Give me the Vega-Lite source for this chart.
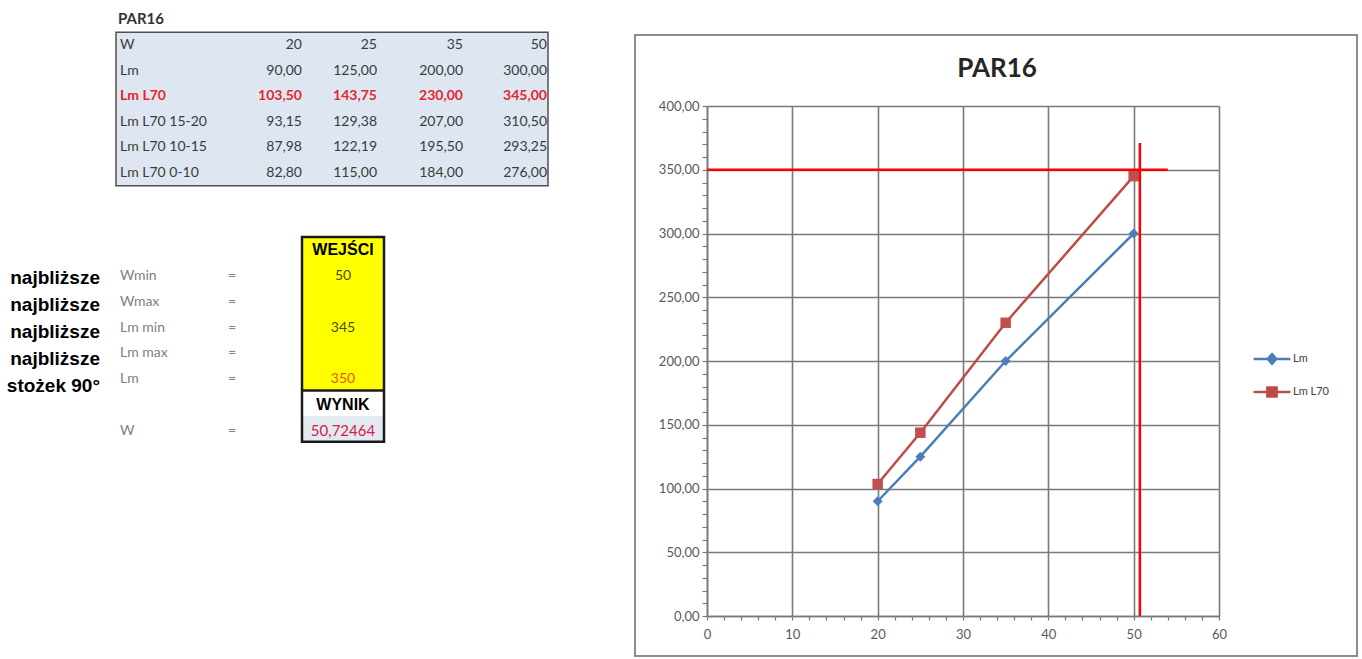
{
  "$schema": "https://vega.github.io/schema/vega-lite/v6.json",
  "width": 512,
  "height": 510,
  "autosize": {"type": "none"},
  "padding": {"left": 707, "top": 106, "right": 143, "bottom": 43},
  "background": "#ffffff",
  "title": {"text": "PAR16", "font": "Lato", "fontSize": 26, "fontWeight": "bold", "color": "#262626", "anchor": "middle", "frame": "group", "dx": 34, "dy": 88, "offset": 18},
  "config": {
    "locale": {"number": {"decimal": ",", "thousands": " ", "grouping": [3], "currency": ["", " zł"]}},
    "view": {"stroke": null},
    "axis": {"labelFont": "Lato"},
    "legend": {"labelFont": "Lato"}
  },
  "datasets": {
    "pomiary": [
      {"seria": "Lm", "W": 20, "wartosc": 90.00},
      {"seria": "Lm", "W": 25, "wartosc": 125.00},
      {"seria": "Lm", "W": 35, "wartosc": 200.00},
      {"seria": "Lm", "W": 50, "wartosc": 300.00},
      {"seria": "Lm L70", "W": 20, "wartosc": 103.50},
      {"seria": "Lm L70", "W": 25, "wartosc": 143.75},
      {"seria": "Lm L70", "W": 35, "wartosc": 230.00},
      {"seria": "Lm L70", "W": 50, "wartosc": 345.00},
      {"seria": "Lm L70 15-20", "W": 20, "wartosc": 93.15},
      {"seria": "Lm L70 15-20", "W": 25, "wartosc": 129.38},
      {"seria": "Lm L70 15-20", "W": 35, "wartosc": 207.00},
      {"seria": "Lm L70 15-20", "W": 50, "wartosc": 310.50},
      {"seria": "Lm L70 10-15", "W": 20, "wartosc": 87.98},
      {"seria": "Lm L70 10-15", "W": 25, "wartosc": 122.19},
      {"seria": "Lm L70 10-15", "W": 35, "wartosc": 195.50},
      {"seria": "Lm L70 10-15", "W": 50, "wartosc": 293.25},
      {"seria": "Lm L70 0-10", "W": 20, "wartosc": 82.80},
      {"seria": "Lm L70 0-10", "W": 25, "wartosc": 115.00},
      {"seria": "Lm L70 0-10", "W": 35, "wartosc": 184.00},
      {"seria": "Lm L70 0-10", "W": 50, "wartosc": 276.00}
    ],
    "pomocnicze": [
      {"linia": "Lm = 350", "x": 0, "y": 350},
      {"linia": "Lm = 350", "x": 54, "y": 350},
      {"linia": "W = 50,72464", "x": 50.72464, "y": 0},
      {"linia": "W = 50,72464", "x": 50.72464, "y": 371}
    ],
    "parametry": [
      {"nazwa": "Wmin", "rola": "wejście", "wartosc": 50, "uwaga": "najbliższe"},
      {"nazwa": "Wmax", "rola": "wejście", "uwaga": "najbliższe"},
      {"nazwa": "Lm min", "rola": "wejście", "wartosc": 345, "uwaga": "najbliższe"},
      {"nazwa": "Lm max", "rola": "wejście", "uwaga": "najbliższe"},
      {"nazwa": "Lm", "rola": "wejście", "wartosc": 350, "uwaga": "stożek 90°"},
      {"nazwa": "W", "rola": "wynik", "wartosc": 50.72464}
    ]
  },
  "layer": [
    {
      "data": {"name": "pomiary"},
      "transform": [{"filter": "datum.seria === 'Lm' || datum.seria === 'Lm L70'"}],
      "layer": [
        {
          "data": {"values": [{}]},
          "mark": {"type": "rect", "fillOpacity": 0, "stroke": "#8c8c8c", "strokeWidth": 2, "clip": false},
          "encoding": {
            "x": {"datum": -8.44, "type": "quantitative", "scale": {"domain": [0, 60], "nice": false, "zero": false}},
            "x2": {"datum": 76.17},
            "y": {"datum": -31.4, "type": "quantitative", "scale": {"domain": [0, 400], "nice": false, "zero": false}},
            "y2": {"datum": 455.7}
          }
        },
        {
          "mark": {"type": "line", "strokeWidth": 2.5},
          "encoding": {
            "x": {
              "field": "W", "type": "quantitative",
              "scale": {"domain": [0, 60], "nice": false, "zero": false},
              "axis": {
                "title": null,
                "values": [0, 2, 4, 6, 8, 10, 12, 14, 16, 18, 20, 22, 24, 26, 28, 30, 32, 34, 36, 38, 40, 42, 44, 46, 48, 50, 52, 54, 56, 58, 60],
                "tickCount": 100,
                "format": "d",
                "labelExpr": "datum.value % 10 === 0 ? datum.label : ''",
                "grid": true,
                "gridColor": "#7a7a7a",
                "gridWidth": 1.6,
                "gridOpacity": {"condition": {"test": "datum.value % 10 === 0", "value": 1}, "value": 0},
                "tickSize": 4,
                "tickColor": "#7a7a7a",
                "tickWidth": 1.2,
                "domainColor": "#7a7a7a",
                "domainWidth": 1.6,
                "labelFontSize": 13,
                "labelColor": "#595959",
                "labelPadding": 8,
                "labelFlush": false,
                "labelOverlap": false,
                "labelBound": false
              }
            },
            "y": {
              "field": "wartosc", "type": "quantitative",
              "scale": {"domain": [0, 400], "nice": false, "zero": false},
              "axis": {
                "title": null,
                "values": [0, 10, 20, 30, 40, 50, 60, 70, 80, 90, 100, 110, 120, 130, 140, 150, 160, 170, 180, 190, 200, 210, 220, 230, 240, 250, 260, 270, 280, 290, 300, 310, 320, 330, 340, 350, 360, 370, 380, 390, 400],
                "tickCount": 100,
                "format": ".2f",
                "labelExpr": "datum.value % 50 === 0 ? datum.label : ''",
                "grid": true,
                "gridColor": "#7a7a7a",
                "gridWidth": 1.6,
                "gridOpacity": {"condition": {"test": "datum.value % 50 === 0", "value": 1}, "value": 0},
                "tickSize": 5,
                "tickColor": "#7a7a7a",
                "tickWidth": 1.2,
                "domainColor": "#7a7a7a",
                "domainWidth": 1.6,
                "labelFontSize": 13,
                "labelColor": "#595959",
                "labelPadding": 3,
                "labelFlush": false,
                "labelOverlap": false,
                "labelBound": false
              }
            },
            "color": {
              "field": "seria", "type": "nominal",
              "scale": {"domain": ["Lm", "Lm L70"], "range": ["#4a7ebb", "#be4b48"]},
              "legend": {
                "title": null,
                "orient": "none",
                "legendX": 552,
                "legendY": 240,
                "direction": "vertical",
                "labelFontSize": 11,
                "labelColor": "#404040",
                "labelOffset": 8,
                "symbolSize": 529,
                "symbolStrokeWidth": 2.5,
                "rowPadding": 10,
                "encode": {
                  "symbols": {
                    "update": {
                      "shape": {"signal": "datum.value === 'Lm' ? 'M-1.6,0H1.6M0,-0.42L0.36,0L0,0.42L-0.36,0Z' : 'M-1.6,0H1.6M-0.4,-0.4H0.4V0.4H-0.4Z'"},
                      "fill": {"signal": "datum.value === 'Lm' ? '#4a7ebb' : '#be4b48'"},
                      "stroke": {"signal": "datum.value === 'Lm' ? '#4a7ebb' : '#be4b48'"}
                    }
                  }
                }
              }
            }
          }
        },
        {
          "transform": [{"filter": "datum.seria === 'Lm'"}],
          "mark": {"type": "point", "shape": "diamond", "filled": true, "size": 100, "color": "#4a7ebb", "opacity": 1},
          "encoding": {
            "x": {"field": "W", "type": "quantitative", "scale": {"domain": [0, 60], "nice": false, "zero": false}},
            "y": {"field": "wartosc", "type": "quantitative", "scale": {"domain": [0, 400], "nice": false, "zero": false}}
          }
        },
        {
          "transform": [{"filter": "datum.seria === 'Lm L70'"}],
          "mark": {"type": "point", "shape": "square", "filled": true, "size": 110, "color": "#c0504d", "opacity": 1},
          "encoding": {
            "x": {"field": "W", "type": "quantitative", "scale": {"domain": [0, 60], "nice": false, "zero": false}},
            "y": {"field": "wartosc", "type": "quantitative", "scale": {"domain": [0, 400], "nice": false, "zero": false}}
          }
        },
        {
          "data": {"name": "pomocnicze"},
          "mark": {"type": "line", "color": "#ff0000", "strokeWidth": 2.5},
          "encoding": {
            "x": {"field": "x", "type": "quantitative", "scale": {"domain": [0, 60], "nice": false, "zero": false}},
            "y": {"field": "y", "type": "quantitative", "scale": {"domain": [0, 400], "nice": false, "zero": false}},
            "detail": {"field": "linia", "type": "nominal"}
          }
        }
      ]
    },
    {
      "data": {"values": [{}]},
      "mark": {"type": "rect", "fill": "#dde6f1", "stroke": "#505050", "strokeWidth": 1.5},
      "encoding": {
        "x": {"datum": 2, "type": "quantitative", "scale": {"type": "linear", "domain": [2, 3, 7], "range": [-591, -487, -159], "nice": false, "zero": false}, "axis": null},
        "x2": {"datum": 7},
        "y": {"datum": 0.5, "type": "quantitative", "scale": {"type": "linear", "domain": [0, 16], "range": [-86.6, 323], "nice": false, "zero": false}, "axis": null},
        "y2": {"datum": 6.5}
      }
    },
    {
      "data": {"values": [{}]},
      "mark": {"type": "text", "text": "PAR16", "align": "left", "baseline": "middle", "dx": 2, "font": "Lato", "fontSize": 15, "fontWeight": "bold", "color": "#333333"},
      "encoding": {
        "x": {"datum": 2, "type": "quantitative", "scale": {"type": "linear", "domain": [2, 3, 7], "range": [-591, -487, -159], "nice": false, "zero": false}, "axis": null},
        "y": {"datum": 0, "type": "quantitative", "scale": {"type": "linear", "domain": [0, 16], "range": [-86.6, 323], "nice": false, "zero": false}, "axis": null}
      }
    },
    {
      "data": {"values": [{}]},
      "mark": {"type": "text", "text": "W", "align": "left", "baseline": "middle", "dx": 4, "font": "Lato", "fontSize": 14, "color": "#3b3b3b"},
      "encoding": {
        "x": {"datum": 2, "type": "quantitative", "scale": {"type": "linear", "domain": [2, 3, 7], "range": [-591, -487, -159], "nice": false, "zero": false}, "axis": null},
        "y": {"datum": "W", "type": "ordinal", "scale": {"type": "point", "domain": ["W", "Lm", "Lm L70", "Lm L70 15-20", "Lm L70 10-15", "Lm L70 0-10"], "range": [-61, 67], "padding": 0}, "axis": null}
      }
    },
    {
      "data": {"name": "pomiary"},
      "transform": [{"filter": "datum.seria === 'Lm'"}],
      "mark": {"type": "text", "align": "right", "baseline": "middle", "font": "Lato", "fontSize": 14, "color": "#3b3b3b"},
      "encoding": {
        "x": {"field": "W", "type": "quantitative", "scale": {"type": "linear", "domain": [20, 25, 35, 50], "range": [-405, -330, -244, -160], "nice": false, "zero": false}, "axis": null},
        "y": {"datum": "W", "type": "ordinal", "scale": {"type": "point", "domain": ["W", "Lm", "Lm L70", "Lm L70 15-20", "Lm L70 10-15", "Lm L70 0-10"], "range": [-61, 67], "padding": 0}, "axis": null},
        "text": {"field": "W", "type": "quantitative", "format": "d"}
      }
    },
    {
      "data": {"name": "pomiary"},
      "transform": [{"filter": "datum.seria !== 'Lm L70'"}],
      "mark": {"type": "text", "align": "right", "baseline": "middle", "font": "Lato", "fontSize": 14, "color": "#3b3b3b"},
      "encoding": {
        "x": {"field": "W", "type": "quantitative", "scale": {"type": "linear", "domain": [20, 25, 35, 50], "range": [-405, -330, -244, -160], "nice": false, "zero": false}, "axis": null},
        "y": {"field": "seria", "type": "ordinal", "scale": {"type": "point", "domain": ["W", "Lm", "Lm L70", "Lm L70 15-20", "Lm L70 10-15", "Lm L70 0-10"], "range": [-61, 67], "padding": 0}, "axis": null},
        "text": {"field": "wartosc", "type": "quantitative", "format": ".2f"}
      }
    },
    {
      "data": {"name": "pomiary"},
      "transform": [{"filter": "datum.seria === 'Lm L70'"}],
      "mark": {"type": "text", "align": "right", "baseline": "middle", "font": "Lato", "fontSize": 14, "fontWeight": "bold", "color": "#e3262d"},
      "encoding": {
        "x": {"field": "W", "type": "quantitative", "scale": {"type": "linear", "domain": [20, 25, 35, 50], "range": [-405, -330, -244, -160], "nice": false, "zero": false}, "axis": null},
        "y": {"field": "seria", "type": "ordinal", "scale": {"type": "point", "domain": ["W", "Lm", "Lm L70", "Lm L70 15-20", "Lm L70 10-15", "Lm L70 0-10"], "range": [-61, 67], "padding": 0}, "axis": null},
        "text": {"field": "wartosc", "type": "quantitative", "format": ".2f"}
      }
    },
    {
      "data": {"name": "pomiary"},
      "transform": [{"filter": "datum.W === 20 && datum.seria !== 'Lm L70'"}],
      "mark": {"type": "text", "align": "left", "baseline": "middle", "dx": 4, "font": "Lato", "fontSize": 14, "color": "#3b3b3b"},
      "encoding": {
        "x": {"datum": 2, "type": "quantitative", "scale": {"type": "linear", "domain": [2, 3, 7], "range": [-591, -487, -159], "nice": false, "zero": false}, "axis": null},
        "y": {"field": "seria", "type": "ordinal", "scale": {"type": "point", "domain": ["W", "Lm", "Lm L70", "Lm L70 15-20", "Lm L70 10-15", "Lm L70 0-10"], "range": [-61, 67], "padding": 0}, "axis": null},
        "text": {"field": "seria", "type": "nominal"}
      }
    },
    {
      "data": {"name": "pomiary"},
      "transform": [{"filter": "datum.W === 20 && datum.seria === 'Lm L70'"}],
      "mark": {"type": "text", "align": "left", "baseline": "middle", "dx": 4, "font": "Lato", "fontSize": 14, "fontWeight": "bold", "color": "#e3262d"},
      "encoding": {
        "x": {"datum": 2, "type": "quantitative", "scale": {"type": "linear", "domain": [2, 3, 7], "range": [-591, -487, -159], "nice": false, "zero": false}, "axis": null},
        "y": {"field": "seria", "type": "ordinal", "scale": {"type": "point", "domain": ["W", "Lm", "Lm L70", "Lm L70 15-20", "Lm L70 10-15", "Lm L70 0-10"], "range": [-61, 67], "padding": 0}, "axis": null},
        "text": {"field": "seria", "type": "nominal"}
      }
    },
    {
      "data": {"values": [{}]},
      "mark": {"type": "rect", "fill": "#ffff00"},
      "encoding": {
        "x": {"datum": 4, "type": "quantitative", "scale": {"type": "linear", "domain": [2, 3, 7], "range": [-591, -487, -159], "nice": false, "zero": false}, "axis": null},
        "x2": {"datum": 5},
        "y": {"datum": 8.5, "type": "quantitative", "scale": {"type": "linear", "domain": [0, 16], "range": [-86.6, 323], "nice": false, "zero": false}, "axis": null},
        "y2": {"datum": 14.5}
      }
    },
    {
      "data": {"values": [{}]},
      "mark": {"type": "rect", "fill": "#e3e9f1"},
      "encoding": {
        "x": {"datum": 4, "type": "quantitative", "scale": {"type": "linear", "domain": [2, 3, 7], "range": [-591, -487, -159], "nice": false, "zero": false}, "axis": null},
        "x2": {"datum": 5},
        "y": {"datum": 15.5, "type": "quantitative", "scale": {"type": "linear", "domain": [0, 16], "range": [-86.6, 323], "nice": false, "zero": false}, "axis": null},
        "y2": {"datum": 16.5}
      }
    },
    {
      "data": {"values": [{}]},
      "mark": {"type": "rect", "fillOpacity": 0, "stroke": "#1a1a1a", "strokeWidth": 2.5},
      "encoding": {
        "x": {"datum": 4, "type": "quantitative", "scale": {"type": "linear", "domain": [2, 3, 7], "range": [-591, -487, -159], "nice": false, "zero": false}, "axis": null},
        "x2": {"datum": 5},
        "y": {"datum": 8.5, "type": "quantitative", "scale": {"type": "linear", "domain": [0, 16], "range": [-86.6, 323], "nice": false, "zero": false}, "axis": null},
        "y2": {"datum": 16.5}
      }
    },
    {
      "data": {"values": [{}]},
      "mark": {"type": "rule", "color": "#1a1a1a", "strokeWidth": 2.5},
      "encoding": {
        "x": {"datum": 4, "type": "quantitative", "scale": {"type": "linear", "domain": [2, 3, 7], "range": [-591, -487, -159], "nice": false, "zero": false}, "axis": null},
        "x2": {"datum": 5},
        "y": {"datum": 14.5, "type": "quantitative", "scale": {"type": "linear", "domain": [0, 16], "range": [-86.6, 323], "nice": false, "zero": false}, "axis": null}
      }
    },
    {
      "data": {"values": [{"naglowek": "WEJŚCI"}, {"naglowek": "WYNIK"}]},
      "mark": {"type": "text", "align": "center", "baseline": "middle", "font": "Liberation Sans", "fontSize": 16, "fontWeight": "bold", "color": "#000000"},
      "encoding": {
        "x": {"datum": 4.5, "type": "quantitative", "scale": {"type": "linear", "domain": [2, 3, 7], "range": [-591, -487, -159], "nice": false, "zero": false}, "axis": null},
        "y": {"field": "naglowek", "type": "ordinal", "scale": {"type": "point", "domain": ["WEJŚCI", "Wmin", "Wmax", "Lm min", "Lm max", "Lm", "WYNIK", "W"], "range": [144, 325], "padding": 0}, "axis": null},
        "text": {"field": "naglowek", "type": "nominal"}
      }
    },
    {
      "data": {"name": "parametry"},
      "mark": {"type": "text", "align": "left", "baseline": "middle", "dx": 4, "font": "Lato", "fontSize": 14, "color": "#808080"},
      "encoding": {
        "x": {"datum": 2, "type": "quantitative", "scale": {"type": "linear", "domain": [2, 3, 7], "range": [-591, -487, -159], "nice": false, "zero": false}, "axis": null},
        "y": {"field": "nazwa", "type": "ordinal", "scale": {"type": "point", "domain": ["WEJŚCI", "Wmin", "Wmax", "Lm min", "Lm max", "Lm", "WYNIK", "W"], "range": [144, 325], "padding": 0}, "axis": null},
        "text": {"field": "nazwa", "type": "nominal"}
      }
    },
    {
      "data": {"name": "parametry"},
      "mark": {"type": "text", "text": "=", "align": "left", "baseline": "middle", "dx": 8, "font": "Lato", "fontSize": 14, "color": "#808080"},
      "encoding": {
        "x": {"datum": 3, "type": "quantitative", "scale": {"type": "linear", "domain": [2, 3, 7], "range": [-591, -487, -159], "nice": false, "zero": false}, "axis": null},
        "y": {"field": "nazwa", "type": "ordinal", "scale": {"type": "point", "domain": ["WEJŚCI", "Wmin", "Wmax", "Lm min", "Lm max", "Lm", "WYNIK", "W"], "range": [144, 325], "padding": 0}, "axis": null}
      }
    },
    {
      "data": {"name": "parametry"},
      "transform": [{"filter": "datum.rola === 'wejście' && isValid(datum.wartosc)"}],
      "mark": {"type": "text", "align": "center", "baseline": "middle", "font": "Lato", "fontSize": 14},
      "encoding": {
        "x": {"datum": 4.5, "type": "quantitative", "scale": {"type": "linear", "domain": [2, 3, 7], "range": [-591, -487, -159], "nice": false, "zero": false}, "axis": null},
        "y": {"field": "nazwa", "type": "ordinal", "scale": {"type": "point", "domain": ["WEJŚCI", "Wmin", "Wmax", "Lm min", "Lm max", "Lm", "WYNIK", "W"], "range": [144, 325], "padding": 0}, "axis": null},
        "text": {"field": "wartosc", "type": "quantitative", "format": "d"},
        "color": {"condition": {"test": "datum.nazwa === 'Lm'", "value": "#e8541c"}, "value": "#4a4a22"}
      }
    },
    {
      "data": {"name": "parametry"},
      "transform": [{"filter": "datum.rola === 'wynik'"}],
      "mark": {"type": "text", "align": "center", "baseline": "middle", "font": "Lato", "fontSize": 15, "color": "#d4204a"},
      "encoding": {
        "x": {"datum": 4.5, "type": "quantitative", "scale": {"type": "linear", "domain": [2, 3, 7], "range": [-591, -487, -159], "nice": false, "zero": false}, "axis": null},
        "y": {"field": "nazwa", "type": "ordinal", "scale": {"type": "point", "domain": ["WEJŚCI", "Wmin", "Wmax", "Lm min", "Lm max", "Lm", "WYNIK", "W"], "range": [144, 325], "padding": 0}, "axis": null},
        "text": {"field": "wartosc", "type": "quantitative", "format": ".5f"}
      }
    },
    {
      "data": {"name": "parametry"},
      "transform": [{"filter": "isValid(datum.uwaga)"}],
      "mark": {"type": "text", "align": "right", "baseline": "middle", "dx": -16, "font": "Liberation Sans", "fontSize": 19, "fontWeight": "bold", "color": "#000000"},
      "encoding": {
        "x": {"datum": 2, "type": "quantitative", "scale": {"type": "linear", "domain": [2, 3, 7], "range": [-591, -487, -159], "nice": false, "zero": false}, "axis": null},
        "y": {"field": "nazwa", "type": "ordinal", "scale": {"type": "point", "domain": ["Wmin", "Wmax", "Lm min", "Lm max", "Lm"], "range": [172, 280], "padding": 0}, "axis": null},
        "text": {"field": "uwaga", "type": "nominal"}
      }
    }
  ],
  "resolve": {"scale": {"x": "independent", "y": "independent", "color": "independent"}}
}
